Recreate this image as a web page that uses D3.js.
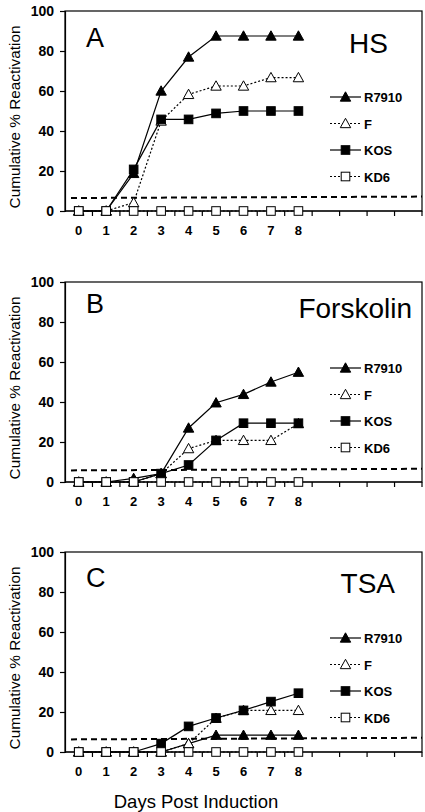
<!DOCTYPE html>
<html>
<head>
<meta charset="utf-8">
<script src="https://cdn.jsdelivr.net/npm/d3@7"></script>
<style>
  html, body { margin: 0; padding: 0; background: #fff; }
  svg { display: block; font-family: "Liberation Sans", Arial, Helvetica, sans-serif; }
</style>
</head>
<body>
<svg id="chart" width="425" height="812"></svg>
<script>
// ---- data ----
const days = [0, 1, 2, 3, 4, 5, 6, 7, 8];
const xCategories = d3.range(13);            // category slots on the axis (only 0-8 labelled)
const xTickLabels = ["0", "1", "2", "3", "4", "5", "6", "7", "8"];
const yTicks = [0, 20, 40, 60, 80, 100];
const seriesNames = ["R7910", "F", "KOS", "KD6"];

const panelLetters = ["A", "B", "C"];
const panelTitles = ["HS", "Forskolin", "TSA"];

const hsR7910 = [0, 0, 18.8, 60, 77, 87.5, 87.5, 87.5, 87.5];
const hsF     = [0, 0, 4.2, 45, 58.3, 62.5, 62.5, 66.7, 66.7];
const hsKOS   = [0, 0, 20.8, 45.8, 45.8, 48.8, 50, 50, 50];
const hsKD6   = [0, 0, 0, 0, 0, 0, 0, 0, 0];
const hsCutoff = [6.5, 7.2];

const fskR7910 = [0, 0, 1.8, 4.2, 27, 39.6, 43.8, 50, 54.9];
const fskF     = [0, 0, 0, 4.2, 16.7, 20.8, 20.8, 20.8, 29.2];
const fskKOS   = [0, 0, 0, 4.2, 8.5, 20.8, 29.4, 29.4, 29.4];
const fskKD6   = [0, 0, 0, 0, 0, 0, 0, 0, 0];
const fskCutoff = [5.8, 6.6];

const tsaR7910 = [0, 0, 0, 0, 4.2, 8.4, 8.4, 8.4, 8.4];
const tsaF     = [0, 0, 0, 0, 4.2, 16.9, 20.8, 20.8, 20.8];
const tsaKOS   = [0, 0, 0, 4.2, 12.8, 17, 20.8, 25.2, 29.4];
const tsaKD6   = [0, 0, 0, 0, 0, 0, 0, 0, 0];
const tsaCutoff = [6.3, 7.1];

// ---- layout ----
const svg = d3.select("#chart");
const left = 65, right = 422, plotH = 200;
const panelTops = [11, 282, 552];
const titleRight = [388, 412, 395];
const letterBase = [47, 313, 587];
const titleBase = [53, 318, 593];

const panels = [
  { series: [hsR7910, hsF, hsKOS, hsKD6], cutoff: hsCutoff },
  { series: [fskR7910, fskF, fskKOS, fskKD6], cutoff: fskCutoff },
  { series: [tsaR7910, tsaF, tsaKOS, tsaKD6], cutoff: tsaCutoff }
];

const styles = {
  "R7910": { dash: null, shape: "tri", fill: "#000" },
  "F":     { dash: "2,2", shape: "tri", fill: "#fff" },
  "KOS":   { dash: null, shape: "sq", fill: "#000" },
  "KD6":   { dash: "2,2", shape: "sq", fill: "#fff" }
};

const x = d3.scaleBand().domain(xCategories).range([left, right]).padding(0);

function marker(g, shape, fill, cx, cy) {
  if (shape === "tri") {
    const s = 5.2;
    g.append("path")
      .attr("d", `M${cx},${cy - s}L${cx + s},${cy + s * 0.8}L${cx - s},${cy + s * 0.8}Z`)
      .attr("fill", fill).attr("stroke", "#000").attr("stroke-width", 1);
  } else {
    const s = 4.3;
    g.append("rect")
      .attr("x", cx - s).attr("y", cy - s).attr("width", 2 * s).attr("height", 2 * s)
      .attr("fill", fill).attr("stroke", "#000").attr("stroke-width", 1);
  }
}

panels.forEach((p, pi) => {
  const top = panelTops[pi];
  const y = d3.scaleLinear().domain([0, 100]).range([top + plotH, top]);
  const g = svg.append("g");

  // frame
  g.append("rect").attr("x", left).attr("y", top).attr("width", right - left).attr("height", plotH)
    .attr("fill", "none").attr("stroke", "#000").attr("stroke-width", 1.2);

  // y axis
  const yAxis = d3.axisLeft(y).tickValues(yTicks).tickSize(5).tickPadding(6);
  const ya = g.append("g").attr("transform", `translate(${left},0)`).call(yAxis);
  ya.select(".domain").attr("stroke-width", 1.2);
  ya.selectAll("line").attr("stroke-width", 1.2);
  ya.selectAll("text").attr("font-size", 14).attr("font-weight", "bold").attr("fill", "#000")
    .attr("font-family", "'Liberation Sans', Arial, sans-serif");

  // x axis: ticks at category boundaries
  const xa = g.append("g").attr("transform", `translate(0,${top + plotH})`);
  xa.append("line").attr("x1", left).attr("x2", right).attr("stroke", "#000").attr("stroke-width", 1.2);
  xCategories.slice(1).concat([13]).forEach(i => {
    const bx = left + i * x.bandwidth();
    xa.append("line").attr("x1", bx).attr("x2", bx).attr("y1", 0).attr("y2", 5)
      .attr("stroke", "#000").attr("stroke-width", 1.2);
  });
  days.forEach((d, i) => {
    xa.append("text").attr("x", x(d) + x.bandwidth() / 2).attr("y", 24)
      .attr("text-anchor", "middle").attr("font-size", 13).attr("font-weight", "bold")
      .text(xTickLabels[i]);
  });

  // y title
  g.append("text").attr("transform", `translate(20,${top + plotH / 2 + 6}) rotate(-90)`)
    .attr("text-anchor", "middle").attr("font-size", 15.3).text("Cumulative % Reactivation");

  // cutoff dashed line
  g.append("line").attr("x1", left + 6).attr("x2", right)
    .attr("y1", y(p.cutoff[0])).attr("y2", y(p.cutoff[1]))
    .attr("stroke", "#000").attr("stroke-width", 2).attr("stroke-dasharray", "6,4");

  // panel letter + title
  g.append("text").attr("x", 86).attr("y", letterBase[pi]).attr("font-size", 27).text(panelLetters[pi]);
  g.append("text").attr("x", titleRight[pi]).attr("y", titleBase[pi]).attr("text-anchor", "end")
    .attr("font-size", 28).text(panelTitles[pi]);

  // series
  const cx = d => x(d) + x.bandwidth() / 2;
  p.series.forEach((vals, si) => {
    const st = styles[seriesNames[si]];
    const line = d3.line().x((v, i) => cx(days[i])).y(v => y(v));
    const sg = g.append("g");
    sg.append("path").attr("d", line(vals)).attr("fill", "none").attr("stroke", "#000")
      .attr("stroke-width", 1.2).attr("stroke-dasharray", st.dash);
    vals.forEach((v, i) => marker(sg, st.shape, st.fill, cx(days[i]), y(v)));
  });

  // legend
  seriesNames.forEach((name, si) => {
    const st = styles[name];
    const ly = top + 86 + si * 26.5;
    const lg = g.append("g");
    lg.append("line").attr("x1", 330).attr("x2", 361).attr("y1", ly).attr("y2", ly)
      .attr("stroke", "#000").attr("stroke-width", 1.2).attr("stroke-dasharray", st.dash);
    marker(lg, st.shape, st.fill, 345.5, ly);
    lg.append("text").attr("x", 364).attr("y", ly + 5).attr("font-size", 13)
      .attr("font-weight", "bold").text(name);
  });
});

// x axis title
svg.append("text").attr("x", 196).attr("y", 808).attr("text-anchor", "middle")
  .attr("font-size", 18.5).text("Days Post Induction");
</script>
</body>
</html>
